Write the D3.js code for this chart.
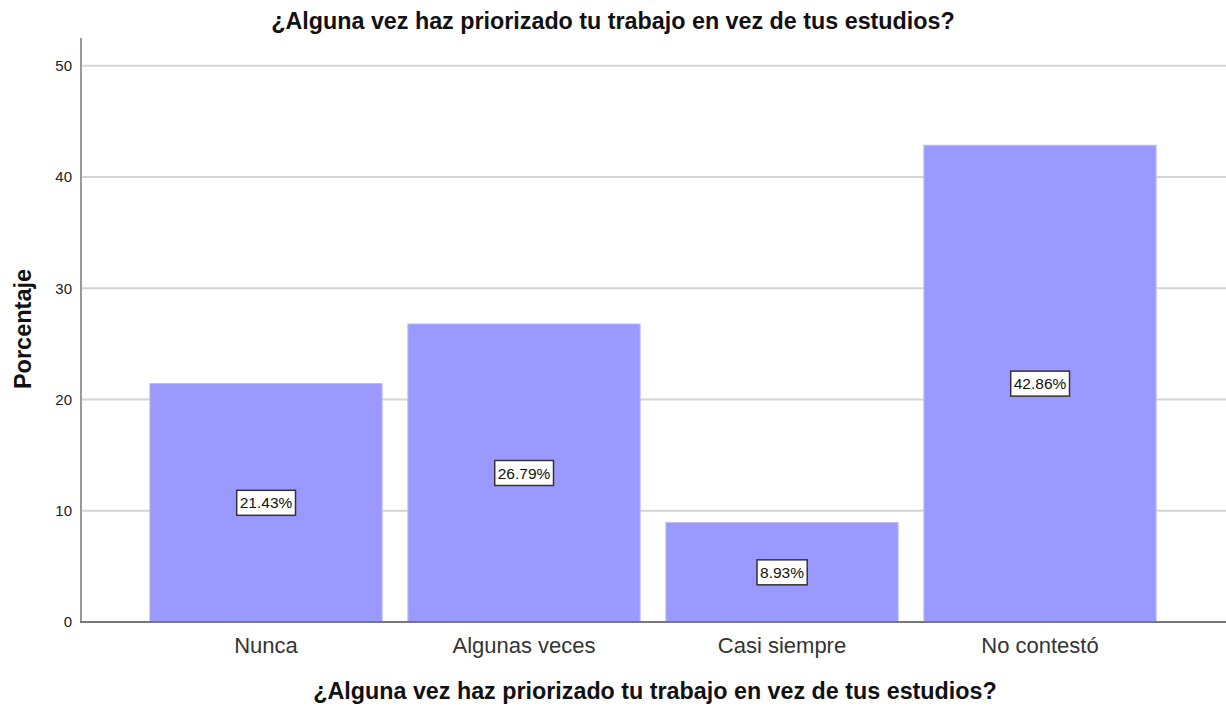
<!DOCTYPE html>
<html lang="es">
<head>
<meta charset="UTF-8">
<title>¿Alguna vez haz priorizado tu trabajo en vez de tus estudios?</title>
<script src="https://d3js.org/d3.v7.min.js"></script>
<style>
  body { margin: 0; background: #fff; }
  svg { display: block; font-family: "Liberation Sans", Arial, sans-serif; }
</style>
</head>
<body>
<svg width="1226" height="707"></svg>
<script>
// datos
const categorias = ["Nunca", "Algunas veces", "Casi siempre", "No contestó"];
const porcentajes = [21.43, 26.79, 8.93, 42.86];
const ticksY = [0, 10, 20, 30, 40, 50];
const titulo = "¿Alguna vez haz priorizado tu trabajo en vez de tus estudios?";

const svg = d3.select("svg");
const izq = 81, der = 1226, arriba = 38, abajo = 622;

const x = d3.scaleBand()
    .domain(categorias)
    .range([137, 1169])
    .paddingInner(0.1)
    .paddingOuter(0.05);

const y = d3.scaleLinear()
    .domain([0, 52.5])
    .range([abajo, arriba]);

// lineas de cuadricula
svg.append("g").selectAll("line")
    .data(ticksY.filter(d => d > 0))
    .enter().append("line")
    .attr("x1", izq).attr("x2", der)
    .attr("y1", d => y(d)).attr("y2", d => y(d))
    .attr("stroke", "#d4d4d4")
    .attr("stroke-width", 2);

// barras
svg.append("g").selectAll("rect")
    .data(porcentajes)
    .enter().append("rect")
    .attr("x", (d, i) => x(categorias[i]))
    .attr("y", d => y(d))
    .attr("width", x.bandwidth())
    .attr("height", d => y(0) - y(d))
    .attr("fill", "#9999ff")
    .attr("stroke", "#b8b8ff")
    .attr("stroke-width", 1);

// ejes
const ejeY = svg.append("g")
    .attr("transform", `translate(${izq},0)`)
    .call(d3.axisLeft(y).tickValues(ticksY).tickSize(0).tickPadding(9));
ejeY.select(".domain").remove();
ejeY.selectAll("text").attr("font-size", 15).attr("fill", "#222").attr("font-family", "Liberation Sans, Arial, sans-serif");
svg.append("line")
    .attr("x1", izq).attr("x2", izq)
    .attr("y1", arriba).attr("y2", abajo)
    .attr("stroke", "#999").attr("stroke-width", 2);

const ejeX = svg.append("g")
    .attr("transform", `translate(0,${abajo})`)
    .call(d3.axisBottom(x).tickSize(0).tickPadding(0));
ejeX.select(".domain").remove();
ejeX.selectAll("text")
    .attr("dy", null).attr("y", 31)
    .attr("font-size", 22).attr("fill", "#333").attr("font-family", "Liberation Sans, Arial, sans-serif");
svg.append("line")
    .attr("x1", izq - 1).attr("x2", der)
    .attr("y1", abajo).attr("y2", abajo)
    .attr("stroke", "#777").attr("stroke-width", 2);

// etiquetas de valores
const etiquetas = svg.append("g").selectAll("g")
    .data(porcentajes)
    .enter().append("g")
    .attr("transform", (d, i) => `translate(${x(categorias[i]) + x.bandwidth() / 2},${y(d / 2)})`);
etiquetas.append("text")
    .attr("text-anchor", "middle")
    .attr("dy", "0.36em")
    .attr("font-size", 15.5)
    .attr("fill", "#111")
    .text(d => d.toFixed(2) + "%");
etiquetas.each(function() {
    const g = d3.select(this);
    const b = g.select("text").node().getBBox();
    g.insert("rect", "text")
        .attr("x", b.x - 3).attr("y", -12.5)
        .attr("width", b.width + 6).attr("height", 25)
        .attr("fill", "#fff")
        .attr("stroke", "#333")
        .attr("stroke-width", 1.5);
});

// titulos
svg.append("text")
    .attr("x", 613).attr("y", 29)
    .attr("text-anchor", "middle")
    .attr("font-size", 23.3).attr("font-weight", "bold").attr("fill", "#111")
    .text(titulo);

svg.append("text")
    .attr("x", 655).attr("y", 699)
    .attr("text-anchor", "middle")
    .attr("font-size", 23.3).attr("font-weight", "bold").attr("fill", "#111")
    .text(titulo);

svg.append("text")
    .attr("transform", "translate(31,329) rotate(-90)")
    .attr("text-anchor", "middle")
    .attr("font-size", 23.5).attr("font-weight", "bold").attr("fill", "#111")
    .text("Porcentaje");
</script>
</body>
</html>
